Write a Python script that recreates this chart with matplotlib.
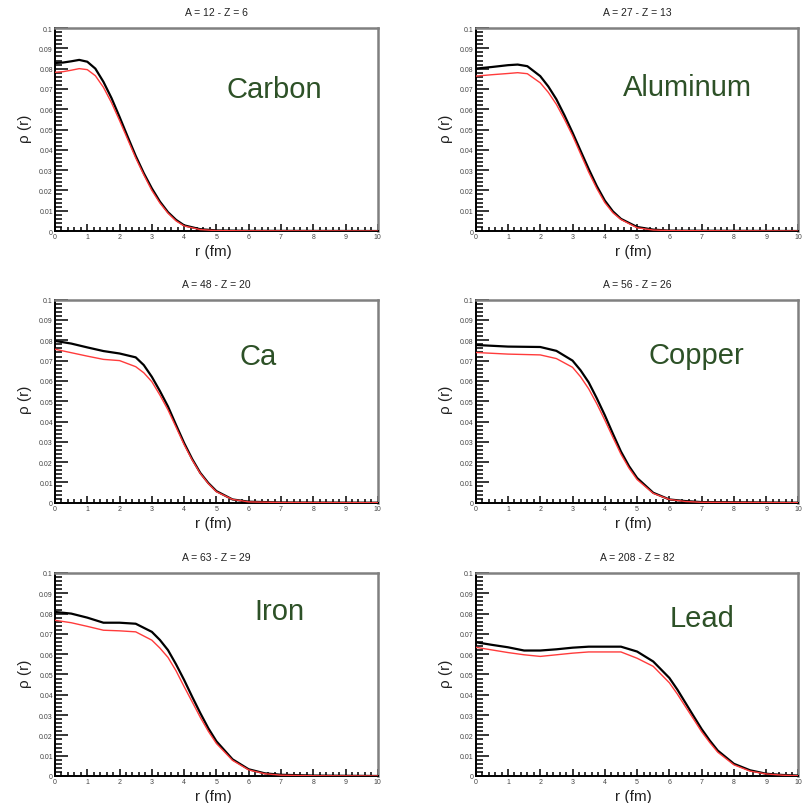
import matplotlib.pyplot as plt
from matplotlib.ticker import MultipleLocator

plt.rcParams['font.family'] = ['Liberation Sans', 'DejaVu Sans']

# radial densities rho(r), black = first curve, red = second curve
names = ["Carbon", "Aluminum", "Ca", "Copper", "Iron", "Lead"]
titles = ["A = 12 - Z = 6", "A = 27 - Z = 13", "A = 48 - Z = 20",
          "A = 56 - Z = 26", "A = 63 - Z = 29", "A = 208 - Z = 82"]

r_c = [0, 0.25, 0.5, 0.75, 1.0, 1.25, 1.5, 1.75, 2.0, 2.25, 2.5, 2.75, 3.0, 3.25, 3.5, 3.75, 4.0, 4.5, 5.0, 6.0, 10]
black_c = [0.0828, 0.0830, 0.0836, 0.0843, 0.0834, 0.0800, 0.0735, 0.0655, 0.0562, 0.0465, 0.0370, 0.0285,
           0.0210, 0.0145, 0.0093, 0.0055, 0.0028, 0.0009, 0.0003, 0.0001, 0.0]
red_c = [0.0782, 0.0785, 0.0792, 0.0800, 0.0795, 0.0765, 0.0708, 0.0632, 0.0544, 0.0452, 0.0360, 0.0277,
         0.0200, 0.0138, 0.0088, 0.0050, 0.0025, 0.0007, 0.0002, 0.0001, 0.0]

r_al = [0, 0.5, 1.0, 1.3, 1.6, 2.0, 2.25, 2.5, 2.75, 3.0, 3.25, 3.5, 3.75, 4.0, 4.25, 4.5, 5.0, 5.5, 6.0, 10]
black_al = [0.0800, 0.0808, 0.0817, 0.0820, 0.0812, 0.0763, 0.0712, 0.0649, 0.0570, 0.0485, 0.0395, 0.0306,
            0.0222, 0.0150, 0.0097, 0.0060, 0.0020, 0.0007, 0.0002, 0]
red_al = [0.0763, 0.0770, 0.0776, 0.0780, 0.0775, 0.0730, 0.0683, 0.0624, 0.0550, 0.0470, 0.0380, 0.0290,
          0.0210, 0.0140, 0.0090, 0.0057, 0.0016, 0.0005, 0.0002, 0]

r_ca = [0, 0.5, 1.0, 1.5, 2.0, 2.5, 2.75, 3.0, 3.25, 3.5, 3.75, 4.0, 4.25, 4.5, 4.75, 5.0, 5.5, 6.0, 7.0, 10]
black_ca = [0.0797, 0.0784, 0.0765, 0.0747, 0.0735, 0.0716, 0.0678, 0.0620, 0.0550, 0.0474, 0.0383, 0.0294,
            0.0215, 0.0147, 0.0097, 0.0057, 0.0016, 0.0005, 0.0001, 0]
red_ca = [0.0756, 0.0739, 0.0722, 0.0706, 0.0700, 0.0670, 0.0640, 0.0596, 0.0530, 0.0457, 0.0372, 0.0286,
          0.0210, 0.0144, 0.0094, 0.0054, 0.0016, 0.0004, 0.0001, 0]

r_cu = [0, 1.0, 2.0, 2.5, 3.0, 3.25, 3.5, 3.75, 4.0, 4.25, 4.5, 4.75, 5.0, 5.5, 6.0, 6.5, 7.0, 10]
black_cu = [0.0777, 0.0769, 0.0767, 0.0748, 0.0700, 0.0652, 0.0593, 0.0515, 0.0431, 0.0340, 0.0252, 0.0180,
            0.0122, 0.0049, 0.0016, 0.0008, 0.0003, 0]
red_cu = [0.0740, 0.0732, 0.0728, 0.0710, 0.0667, 0.0620, 0.0561, 0.0488, 0.0407, 0.0322, 0.0239, 0.0170,
          0.0114, 0.0046, 0.0016, 0.0006, 0.0002, 0]

r_fe = [0, 0.5, 1.0, 1.5, 2.0, 2.5, 3.0, 3.25, 3.5, 3.75, 4.0, 4.25, 4.5, 4.75, 5.0, 5.5, 6.0, 6.5, 7.0, 8.0, 10]
black_fe = [0.0808, 0.0800, 0.0780, 0.0755, 0.0755, 0.0750, 0.0710, 0.0670, 0.0620, 0.0550, 0.0473, 0.0390,
            0.0310, 0.0235, 0.0171, 0.0082, 0.0033, 0.0013, 0.0006, 0.0002, 0]
red_fe = [0.0767, 0.0755, 0.0737, 0.0718, 0.0715, 0.0710, 0.0669, 0.0630, 0.0584, 0.0518, 0.0440, 0.0365,
          0.0289, 0.0220, 0.0160, 0.0077, 0.0030, 0.0011, 0.0004, 0.0001, 0]

r_pb = [0, 0.5, 1.0, 1.5, 2.0, 2.5, 3.0, 3.5, 4.0, 4.5, 5.0, 5.5, 6.0, 6.25, 6.5, 6.75, 7.0, 7.25, 7.5, 8.0,
        8.5, 9.0, 9.5, 10]
black_pb = [0.0659, 0.0646, 0.0634, 0.0618, 0.0618, 0.0624, 0.0632, 0.0637, 0.0637, 0.0637, 0.0613, 0.0564,
            0.0483, 0.0425, 0.0360, 0.0295, 0.0231, 0.0175, 0.0125, 0.0060, 0.0028, 0.0011, 0.0005, 0.0002]
red_pb = [0.0634, 0.0621, 0.0608, 0.0597, 0.0589, 0.0597, 0.0605, 0.0611, 0.0611, 0.0611, 0.0580, 0.0540,
          0.0459, 0.0403, 0.0341, 0.0280, 0.0218, 0.0165, 0.0117, 0.0055, 0.0024, 0.0010, 0.0004, 0.0001]

radii = [r_c, r_al, r_ca, r_cu, r_fe, r_pb]
blacks = [black_c, black_al, black_ca, black_cu, black_fe, black_pb]
reds = [red_c, red_al, red_ca, red_cu, red_fe, red_pb]

# where the element name sits, in data units
name_x = [6.8, 6.55, 6.3, 6.85, 6.95, 7.0]
name_y = [0.070, 0.071, 0.0725, 0.073, 0.0815, 0.078]

fig = plt.figure(figsize=(8.09, 8.04), dpi=100)

lefts = [0.068, 0.588]
bottoms = [0.7114, 0.3735, 0.0336]
w, h = 0.399, 0.2525

for i in range(6):
    ax = fig.add_axes([lefts[i % 2], bottoms[i // 2], w, h])
    ax.plot(radii[i], blacks[i], color='black', lw=1.6, zorder=3)
    ax.plot(radii[i], reds[i], color='#ff3b3b', lw=1.0, zorder=4)
    ax.set_xlim(0, 10)
    ax.set_ylim(0, 0.1)

    ax.xaxis.set_major_locator(MultipleLocator(1))
    ax.xaxis.set_minor_locator(MultipleLocator(0.2))
    ax.yaxis.set_major_locator(MultipleLocator(0.01))
    ax.yaxis.set_minor_locator(MultipleLocator(0.002))
    ax.xaxis.set_major_formatter(plt.FuncFormatter(lambda v, p: "%g" % v))
    ax.yaxis.set_major_formatter(plt.FuncFormatter(lambda v, p: "%g" % round(v, 3)))

    ax.tick_params(which='both', direction='in', top=False, right=False,
                   labelsize=5, labelcolor='#444444', pad=1.5, width=1.1)
    ax.tick_params(axis='x', which='major', length=5)
    ax.tick_params(axis='x', which='minor', length=3)
    ax.tick_params(axis='y', which='major', length=9)
    ax.tick_params(axis='y', which='minor', length=5)

    for side in ['top', 'right']:
        ax.spines[side].set_color('#808080')
        ax.spines[side].set_linewidth(1.8)
    for side in ['left', 'bottom']:
        ax.spines[side].set_color('black')
        ax.spines[side].set_linewidth(1.4)

    ax.text(0.5, 1 + 16 / 203, titles[i], transform=ax.transAxes,
            ha='center', va='center', fontsize=7.5, color='#222222')
    ax.text(0.49, -20 / 203, "r (fm)", transform=ax.transAxes,
            ha='center', va='center', fontsize=11, color='#222222')
    ax.text(-30 / 323, 0.51, "ρ (r)", transform=ax.transAxes, rotation=90,
            ha='center', va='center', fontsize=11, color='#222222')
    ax.text(name_x[i], name_y[i], names[i], ha='center', va='center',
            fontsize=21, color='#2d5127')

fig.savefig("out.png", dpi=100)
